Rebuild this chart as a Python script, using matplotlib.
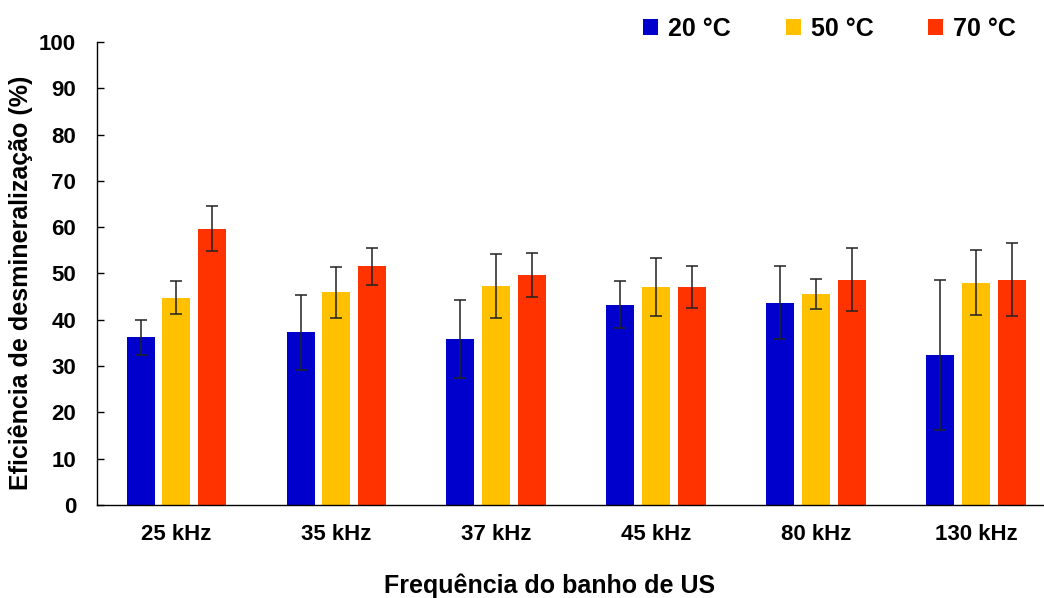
import numpy as np
import matplotlib.pyplot as plt

plt.rcParams['font.family'] = ['Liberation Sans', 'DejaVu Sans']
plt.rcParams['font.weight'] = 'bold'

categories = ['25 kHz', '35 kHz', '37 kHz', '45 kHz', '80 kHz', '130 kHz']
series_names = ['20 °C', '50 °C', '70 °C']
colors = ['#0000CC', '#FFC000', '#FF3300']

vals_20 = [36.2, 37.3, 35.9, 43.3, 43.7, 32.3]
err_20 = [3.7, 8.1, 8.4, 5.1, 7.9, 16.2]
vals_50 = [44.8, 45.9, 47.3, 47.1, 45.6, 48.0]
err_50 = [3.5, 5.6, 6.9, 6.3, 3.2, 7.0]
vals_70 = [59.7, 51.6, 49.7, 47.1, 48.7, 48.7]
err_70 = [4.8, 4.0, 4.8, 4.6, 6.8, 7.9]

values = [vals_20, vals_50, vals_70]
errors = [err_20, err_50, err_70]

fig = plt.figure(figsize=(10.44, 5.98), dpi=100)
ax = fig.add_axes([0.0929, 0.1555, 0.9071, 0.7743])

x = np.arange(len(categories))
width = 0.175
offset = 0.222
for i in range(3):
    ax.bar(x + (i - 1) * offset, values[i], width, color=colors[i],
           label=series_names[i], zorder=2)
    ax.errorbar(x + (i - 1) * offset, values[i], yerr=errors[i], fmt='none',
                ecolor='#222222', elinewidth=1.1, capsize=4, capthick=1.1, zorder=3)

ax.set_xlim(-0.494, 5.425)
ax.set_ylim(0, 100)
ax.set_yticks(np.arange(0, 101, 10))
ax.set_xticks(x)
ax.set_xticklabels(categories)
ax.tick_params(axis='x', length=0, pad=14, labelsize=16)
ax.tick_params(axis='y', direction='in', length=5, width=1, pad=15, labelsize=16)
ax.spines['top'].set_visible(False)
ax.spines['right'].set_visible(False)
ax.spines['left'].set_linewidth(1)
ax.spines['bottom'].set_linewidth(1)

ax.set_ylabel('Eficiência de desmineralização (%)', fontsize=18, fontweight='bold', labelpad=10)
ax.yaxis.set_label_coords(-0.068, 0.48)
fig.text(0.526, 0.0, 'Frequência do banho de US', fontsize=18, fontweight='bold',
         ha='center', va='bottom')

fig.legend(loc='upper right', bbox_to_anchor=(0.995, 1.01), ncol=3, frameon=False,
           fontsize=18, handlelength=0.6, handleheight=0.6, handletextpad=0.4,
           columnspacing=2.2)

fig.savefig('out.png', dpi=100)
